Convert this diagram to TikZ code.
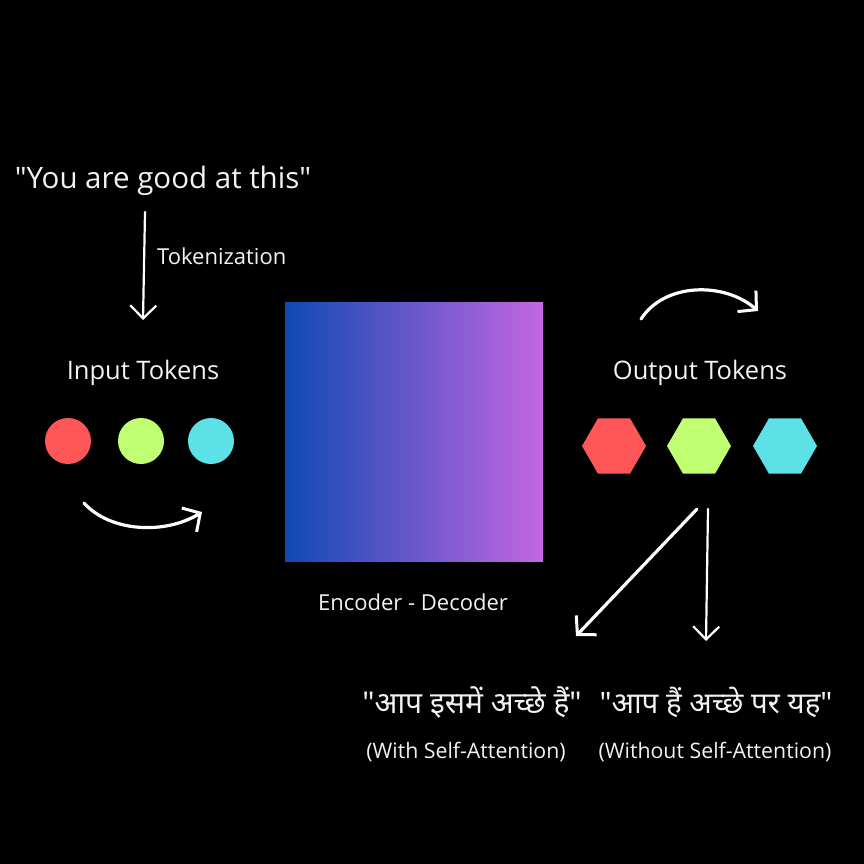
\documentclass[tikz,border=0pt]{standalone}
\usepackage{fontspec}
\setmainfont{Open Sans}
\newfontfamily\hindi[Script=Devanagari]{Noto Sans}
\usetikzlibrary{arrows.meta,shapes.geometric}
\definecolor{tokred}{HTML}{FF5757}
\definecolor{tokgreen}{HTML}{C1FF72}
\definecolor{tokcyan}{HTML}{5CE1E6}
\definecolor{boxblue}{HTML}{0F4AB4}
\definecolor{boxpurple}{HTML}{C466E2}
\definecolor{txt}{HTML}{F2F2F2}

\begin{document}
\begin{tikzpicture}[x=1pt,y=-1pt]
\tikzstyle{every node} = [text=txt, inner sep=0pt]
\tikzstyle{arr} = [draw=white, line width=3.2pt, line cap=round, -{Straight Barb[length=13pt,width=28pt,line width=3pt]}]
\tikzstyle{thinarr} = [arr, line width=2.2pt, -{Straight Barb[length=13pt,width=26pt,line width=2.2pt]}]
\tikzstyle{dot} = [circle, minimum size=46pt]
\tikzstyle{hexa} = [regular polygon, regular polygon sides=6, minimum size=64pt]

\fill[black] (0,0) rectangle (864,864);

% input side
\node[font=\fontsize{29.5}{34}\selectfont] (sentence) at (163,181) {\textquotedbl You are good at this\textquotedbl};
\coordinate (tokstart) at (145,212);
\coordinate (tokend) at (143,320);
\node[anchor=west, font=\fontsize{22}{26}\selectfont] (tokenization) at (157,256) {Tokenization};
\node[font=\fontsize{25.5}{30}\selectfont] (inlabel) at (143,373) {Input Tokens};
\node[dot, fill=tokred] (inred) at (68,441) {};
\node[dot, fill=tokgreen] (ingreen) at (141,441) {};
\node[dot, fill=tokcyan] (incyan) at (211,441) {};
\coordinate (inarrA) at (84,503);
\coordinate (inarrB) at (202,512);

% encoder - decoder
\shade[left color=boxblue, right color=boxpurple] (285,302) rectangle (543,561);
\node[font=\fontsize{22}{26}\selectfont] (enclabel) at (413,602) {Encoder - Decoder};

% output side
\coordinate (outarrA) at (641,319);
\coordinate (outarrB) at (758,311);
\node[font=\fontsize{25.5}{30}\selectfont] (outlabel) at (700,373) {Output Tokens};
\node[hexa, fill=tokred] (outred) at (614,446) {};
\node[hexa, fill=tokgreen] (outgreen) at (699,446) {};
\node[hexa, fill=tokcyan] (outcyan) at (785,446) {};
\coordinate (splitA) at (697,509);
\coordinate (splitB) at (708,509);
\coordinate (withend) at (576,636);
\coordinate (withoutend) at (706,641);

\node[font=\fontsize{30}{36}\selectfont] (withtxt) at (472,702) {\hindi "आप इसमें अच्छे हैं"};
\node[font=\fontsize{29.5}{36}\selectfont] (withouttxt) at (716,702) {\hindi "आप हैं अच्छे पर यह"};
\node[font=\fontsize{21.3}{25}\selectfont] (withnote) at (466,752) {(With Self-Attention)};
\node[font=\fontsize{21.3}{25}\selectfont] (withoutnote) at (715,752) {(Without Self-Attention)};

\draw [thinarr] (tokstart) -- (tokend);
\draw [arr] (inarrA) .. controls (110,532) and (165,535) .. (inarrB);
\draw [arr] (outarrA) .. controls (665,282) and (725,282) .. (outarrB);
\draw [arr] (splitA) -- (withend);
\draw [thinarr] (splitB) -- (withoutend);
\end{tikzpicture}
\end{document}
